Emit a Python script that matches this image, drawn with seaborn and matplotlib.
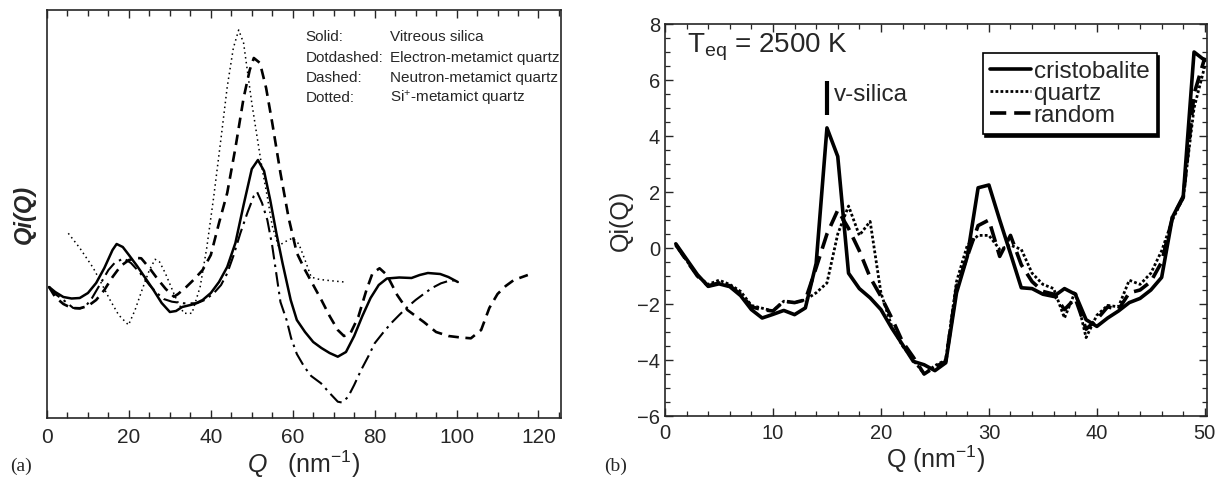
import numpy as np
import pandas as pd
import matplotlib
matplotlib.use("Agg")
import matplotlib.pyplot as plt
import seaborn as sns
from matplotlib.ticker import MultipleLocator, NullLocator

# ---------------- Panel (a): Qi(Q) vs Q (arbitrary units) ----------------
a_solid_q = [0.5, 2, 4, 6, 8, 10, 12, 14, 16, 17, 18.5, 20, 22, 24, 26, 28, 30, 31.5, 33, 36, 38, 40,
             42, 44, 46, 48, 50, 51.5, 53, 54.5, 56, 57.5, 59.5, 61, 63, 65, 67, 69, 71, 73, 75, 77,
             79, 81, 83, 86, 89, 91, 93, 96, 98, 100.3]
a_solid_y = [131, 126, 121, 119.5, 120, 125, 135, 150, 168, 174, 171, 163, 152, 140, 128, 115, 106, 107,
             111, 114, 118, 125, 136, 151, 175, 213, 249, 258, 247, 218, 185, 155, 118, 98, 86, 76, 70,
             65, 61.3, 66, 82, 102, 120, 133, 139.5, 140.5, 140, 143, 145, 144, 141, 136]

a_dashed_q = [0.5, 2, 4, 6, 8, 10, 12, 14, 16, 18, 20, 22, 23, 25, 27, 29, 31, 32, 34, 36, 38, 40, 42,
              44, 46, 48, 49.5, 50.5, 52, 53.5, 55, 57, 59, 61, 63, 65, 67, 69, 71, 72.5, 74, 76, 78,
              79.5, 81.2, 83, 85.5, 88, 90, 92, 95, 98, 101, 103.5, 106, 108, 110, 112, 114, 117.4]
a_dashed_y = [131, 121, 114, 110, 109.7, 112, 118, 128, 141, 152, 158, 160, 159.7, 150, 139, 129, 121.3,
              124, 131, 139, 148, 163, 195, 225, 270, 320, 348, 360, 355, 330, 295, 245, 200, 165, 148,
              133, 118, 102, 88, 82, 84, 101, 128, 145, 149.7, 143, 123, 108, 102, 96, 86, 82, 80.5,
              79.7, 88, 110, 124, 132, 138, 143]

a_dotted_q = [5.2, 8, 11.3, 13.5, 15.4, 17.5, 19.9, 21.5, 23.2, 25, 26.4, 27.5, 28.9, 31.3, 33.4, 35.4,
              37.4, 39, 40.7, 42.5, 44, 45.5, 46.8, 48, 48.9, 50, 51.3, 52.5, 53.8, 55, 56.5, 58, 60,
              61.5, 63, 64.5, 66, 67.7, 70, 72.6]
a_dotted_y = [184.7, 170, 150, 133, 118, 103, 93, 108, 128, 148, 158.7, 156, 144.7, 121.3, 104.7, 104.7,
              131.3, 170, 221, 280, 331, 370, 388, 375, 348, 315, 281, 250, 221, 192, 172, 176, 180,
              174, 158, 141, 139, 138, 137, 136]

a_dashdot_q = [0.5, 2, 4, 6.4, 8, 9.3, 11, 13, 15, 16.5, 18.7, 20.5, 22.8, 25, 26.9, 28.5, 30.5, 33.4,
               36.6, 38.5, 40.7, 42.5, 44, 45.5, 47.2, 49, 50.5, 51.3, 52.5, 53.8, 55, 57, 58.5, 59.6,
               61, 62.8, 64.5, 66.9, 69, 71, 72, 73.5, 75, 76.7, 78.5, 80, 82, 84, 86, 88.1, 90, 92.2,
               94, 96.2, 98, 100.3]
a_dashdot_y = [131, 124, 118, 110, 109.5, 111, 120, 134, 148, 155, 159.7, 155, 144.7, 133, 124.7, 119,
               116.3, 114.7, 114.7, 118, 124.7, 133, 144.7, 162, 184.7, 206, 222, 226, 215, 198, 172,
               116, 98, 80, 64, 51.3, 42, 34.7, 25, 16.3, 15.5, 21, 33, 48, 62, 74.7, 85, 94.7, 103,
               111.3, 118, 124.7, 130, 134.7, 137, 138]

a_legend_keys = ["Solid:", "Dotdashed:", "Dashed:", "Dotted:"]
a_legend_vals = ["Vitreous silica", "Electron-metamict quartz", "Neutron-metamict quartz",
                 "Si$^{+}$-metamict quartz"]

# ---------------- Panel (b): Qi(Q) for Teq = 2500 K ----------------
b_q = list(range(1, 51))
b_cristobalite = [0.15, -0.4, -0.95, -1.37, -1.28, -1.38, -1.7, -2.2, -2.5, -2.37,
                  -2.23, -2.38, -2.14, -0.55, 4.29, 3.27, -0.9, -1.45, -1.78, -2.2,
                  -2.86, -3.45, -4.05, -4.17, -4.38, -4.1, -1.6, -0.3, 2.15, 2.25,
                  1.0, -0.2, -1.42, -1.45, -1.65, -1.73, -1.45, -1.65, -2.56, -2.8,
                  -2.5, -2.25, -1.95, -1.8, -1.5, -1.05, 1.1, 1.85, 7.0, 6.7]
b_quartz = [0.1, -0.45, -1.0, -1.3, -1.15, -1.3, -1.55, -2.05, -2.15, -2.25,
            -1.9, -1.95, -1.85, -1.6, -1.25, 0.5, 1.5, 0.45, 0.95, -1.6,
            -2.8, -3.5, -4.0, -4.5, -4.2, -4.0, -1.2, 0.1, 0.45, 0.45,
            -0.05, 0.1, -0.05, -0.9, -1.3, -1.45, -2.5, -1.55, -3.2, -2.4,
            -2.05, -2.1, -1.15, -1.3, -0.9, -0.1, 1.0, 1.8, 5.0, 6.5]
b_random = [0.12, -0.45, -1.0, -1.35, -1.25, -1.35, -1.65, -2.1, -2.2, -2.25,
            -1.9, -1.95, -1.85, -0.7, 0.5, 1.35, 0.7, -0.1, -1.05, -1.73,
            -2.5, -3.35, -3.9, -4.5, -4.25, -4.05, -1.4, -0.3, 0.8, 1.0,
            -0.3, 0.45, -0.6, -1.2, -1.55, -1.65, -2.2, -1.8, -2.9, -2.55,
            -2.1, -2.2, -1.6, -1.5, -1.2, -0.5, 1.1, 1.8, 5.5, 6.8]
b_labels = ["cristobalite", "quartz", "random"]

# ---------------- style ----------------
sns.set_style("ticks")
plt.rcParams["font.family"] = ["Liberation Sans", "DejaVu Sans"]
plt.rcParams["mathtext.fontset"] = "custom"
plt.rcParams["mathtext.rm"] = "Liberation Sans"
plt.rcParams["mathtext.it"] = "Liberation Sans:italic"
plt.rcParams["mathtext.bf"] = "Liberation Sans:bold"
plt.rcParams["axes.linewidth"] = 1.2

fig = plt.figure(figsize=(12.17, 4.82), dpi=100)
W, H = 1217, 482
axA = fig.add_axes([47 / W, (H - 418) / H, (561 - 47) / W, (418 - 10) / H])
axB = fig.add_axes([665 / W, (H - 416) / H, (1207 - 665) / W, (416 - 24) / H])

# ---- panel (a)
series_a = [
    (a_solid_q, a_solid_y, "-", 1.8),
    (a_dashdot_q, a_dashdot_y, (0, (7, 2.5, 1.2, 2.5)), 1.5),
    (a_dashed_q, a_dashed_y, (0, (4, 2.5)), 1.9),
    (a_dotted_q, a_dotted_y, (0, (1, 2.2)), 1.1),
]
for q, y, ls, lw in series_a:
    df = pd.DataFrame({"Q": q, "Y": y})
    sns.lineplot(data=df, x="Q", y="Y", ax=axA, color="black", lw=lw, sort=False,
                 estimator=None)
    axA.lines[-1].set_linestyle(ls)

axA.set_xlim(0, 125.5)
axA.set_ylim(0, 408)
axA.xaxis.set_major_locator(MultipleLocator(20))
axA.xaxis.set_minor_locator(MultipleLocator(5))
axA.yaxis.set_major_locator(NullLocator())
axA.yaxis.set_minor_locator(NullLocator())
axA.tick_params(axis="x", which="both", direction="in", top=True, bottom=True,
                labelsize=15, pad=7)
axA.tick_params(axis="x", which="major", length=6, width=1)
axA.tick_params(axis="x", which="minor", length=4, width=1)
axA.set_xlabel("$\\mathit{Q}$   (nm$^{-1}$)", fontsize=18, labelpad=1)
axA.set_ylabel("Qi(Q)", fontsize=17, style="italic", fontweight="bold", labelpad=8)
for sp in axA.spines.values():
    sp.set_visible(True)

rowsY = [381, 360, 340, 320]
for k, v, yy in zip(a_legend_keys, a_legend_vals, rowsY):
    axA.text(63.2, yy, k, fontsize=11, va="center", ha="left")
    axA.text(83.8, yy, v, fontsize=11, va="center", ha="left")

# ---- panel (b)
dfB = pd.DataFrame({
    "Q": b_q * 3,
    "Qi": b_cristobalite + b_quartz + b_random,
    "set": [b_labels[0]] * 50 + [b_labels[1]] * 50 + [b_labels[2]] * 50,
})
styles_b = {"cristobalite": ("-", 2.6), "quartz": ((0, (1, 0.8)), 2.0),
            "random": ((0, (4.5, 2.2)), 2.6)}
for name in b_labels:
    sub = dfB[dfB["set"] == name]
    sns.lineplot(data=sub, x="Q", y="Qi", ax=axB, color="black", lw=styles_b[name][1],
                 sort=False, estimator=None, label=name)
    axB.lines[-1].set_linestyle(styles_b[name][0])

axB.set_xlim(0, 50.2)
axB.set_ylim(-6, 8)
axB.xaxis.set_major_locator(MultipleLocator(10))
axB.xaxis.set_minor_locator(MultipleLocator(2))
axB.yaxis.set_major_locator(MultipleLocator(2))
axB.yaxis.set_minor_locator(MultipleLocator(0.5))
axB.tick_params(which="both", direction="in", top=True, right=True, labelsize=14.5)
axB.tick_params(which="major", length=6, width=1)
axB.tick_params(which="minor", length=3.5, width=0.9)
axB.tick_params(axis="x", pad=6)
axB.set_xlabel("Q (nm$^{-1}$)", fontsize=18, labelpad=0)
axB.set_ylabel("Qi(Q)", fontsize=18, labelpad=3)

# v-silica marker
axB.plot([15.0, 15.0], [4.76, 5.95], color="black", lw=3, solid_capstyle="butt")
axB.text(15.6, 5.45, "v-silica", fontsize=17.5, va="center", ha="left")
axB.text(2.0, 7.15, "T$_{\\mathrm{eq}}$ = 2500 K", fontsize=20, va="center", ha="left")

leg = axB.legend(loc="upper left", bbox_to_anchor=(0.586, 0.925), fontsize=17.5,
                 frameon=True, fancybox=False, shadow={"color": "black", "alpha": 1.0},
                 edgecolor="black", framealpha=1, handlelength=1.7, handletextpad=0.1,
                 labelspacing=0.0, borderpad=0.3, borderaxespad=0)
leg.get_frame().set_linewidth(1.2)

fig.text(10 / W, 1 - 466 / H, "(a)", fontsize=14, family="Liberation Serif", va="center")
fig.text(604 / W, 1 - 466 / H, "(b)", fontsize=14, family="Liberation Serif", va="center")

fig.savefig("out.png", dpi=100)
